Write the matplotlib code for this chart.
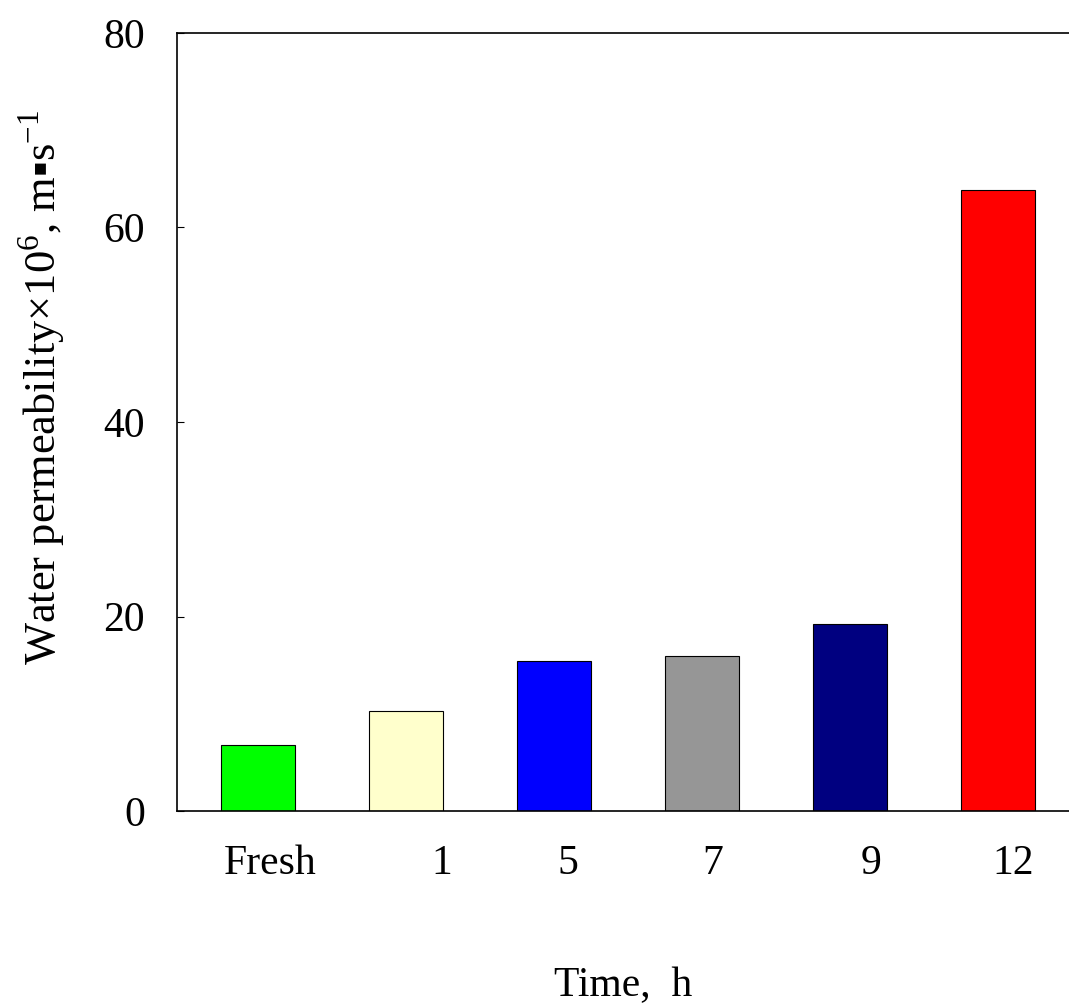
import numpy as np
import matplotlib
matplotlib.use('Agg')
import matplotlib.pyplot as plt

# data
categories = ['Fresh', '1', '5', '7', '9', '12']
values = [6.8, 10.3, 15.4, 15.9, 19.2, 63.9]
colors = ['#00ff00', '#ffffcc', '#0000ff', '#969696', '#000080', '#ff0000']

plt.rcParams['font.family'] = ['Liberation Serif', 'DejaVu Serif']
plt.rcParams['mathtext.fontset'] = 'custom'
plt.rcParams['mathtext.rm'] = 'Liberation Serif'

fig = plt.figure(figsize=(10.69, 10.08), dpi=100)
ax = fig.add_axes([0.1656, 0.1954, 0.8344, 0.7719])

x = np.arange(len(categories))
ax.bar(x, values, width=0.5, color=colors, edgecolor='black', linewidth=0.8)

ax.set_xlim(-0.55, 5.48)
ax.set_ylim(0, 80)
ax.set_yticks([0, 20, 40, 60, 80])
ax.tick_params(axis='y', direction='in', length=5, width=0.8, labelsize=30, pad=23)

# tick labels sit slightly right of the bar centres in the original
label_shift = [0.08, 0.24, 0.09, 0.07, 0.14, 0.10]
ax.set_xticks(x + np.array(label_shift))
ax.set_xticklabels(categories, fontsize=30)
ax.tick_params(axis='x', length=0, pad=24)

for s in ['left', 'bottom', 'top']:
    ax.spines[s].set_linewidth(1.2)
ax.spines['right'].set_visible(False)

ax.set_ylabel('Water permeability\u00d710$^{6}$, m\u25aas$^{\\mathrm{-1}}$', fontsize=32)
ax.yaxis.set_label_coords(-0.122, 0.545)
ax.set_xlabel('Time,  h', fontsize=30, labelpad=60)

fig.savefig('out.png', dpi=100)
